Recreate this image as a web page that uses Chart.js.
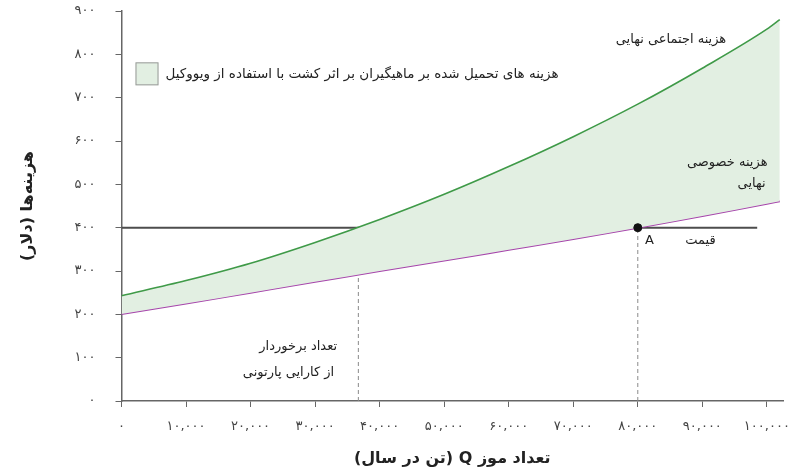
<!DOCTYPE html>
<html>
<head>
<meta charset="utf-8">
<script src="https://cdn.jsdelivr.net/npm/chart.js@4.4.1/dist/chart.umd.min.js"></script>
<style>
  html, body { margin: 0; padding: 0; background: #fff; }
  #wrap { width: 810px; height: 473px; position: relative; }
  canvas { direction: rtl; }
</style>
</head>
<body>
<div id="wrap"><canvas id="myChart"></canvas></div>
<script>
// quantity of bananas (tonnes per year)
const qValues = [0, 10000, 20000, 30000, 40000, 50000, 60000, 70000, 80000, 90000, 100000, 102000];
// marginal social cost
const socialCost = [243, 278, 318, 366, 419, 477, 541, 610, 685, 768, 858, 880];
// marginal private cost
const privateCost = [201, 225, 250, 275, 300, 324, 349, 374, 400, 427, 455, 461];

const priceLevel = 400;
const priceEnd = 98500;
const paretoQ = 36700;
const marketQ = 80000;

const yTicks = [0, 100, 200, 300, 400, 500, 600, 700, 800, 900];
const xTicks = [0, 10000, 20000, 30000, 40000, 50000, 60000, 70000, 80000, 90000, 100000];

const legendText = 'هزینه های تحمیل شده بر ماهیگیران بر اثر کشت با استفاده از ویووکیل';
const yTitle = 'هزینه‌ها (دلار)';
const xTitle = 'تعداد موز Q (تن در سال)';

const FONT = "'DejaVu Sans', 'Noto Sans', sans-serif";
const GREEN = '#3f9a48';
const PURPLE = '#a645ab';
const FILL = '#e2efe2';

function toFa(n) {
    const s = n.toLocaleString('en-US');
    return s.replace(/[0-9]/g, d => '۰۱۲۳۴۵۶۷۸۹'[d]);
}

const labels = [
    { x: 93700, y: 835, text: 'هزینه اجتماعی نهایی', align: 'right' },
    { x: 100100, y: 549, text: 'هزینه خصوصی', align: 'right' },
    { x: 99800, y: 501, text: 'نهایی', align: 'right' },
    { x: 81100, y: 369, text: 'A', align: 'left' },
    { x: 89700, y: 369, text: 'قیمت', align: 'center' },
    { x: 33400, y: 126, text: 'تعداد برخوردار', align: 'right' },
    { x: 32950, y: 65, text: 'از کارایی پارتونی', align: 'right' }
];

const annotate = {
    id: 'annotate',
    afterDatasetsDraw(chart) {
        const ctx = chart.ctx;
        const xs = chart.scales.x, ys = chart.scales.y;
        ctx.save();
        ctx.fillStyle = '#222';
        ctx.font = '13px ' + FONT;
        ctx.textBaseline = 'middle';
        labels.forEach(l => {
            ctx.textAlign = l.align;
            ctx.fillText(l.text, xs.getPixelForValue(l.x), ys.getPixelForValue(l.y));
        });
        // legend box
        const bx = chart.chartArea.left + 14, by = ys.getPixelForValue(755) - 11.5;
        ctx.fillStyle = FILL;
        ctx.fillRect(bx, by, 23, 23);
        ctx.strokeStyle = '#9a9a9a';
        ctx.lineWidth = 1;
        ctx.strokeRect(bx + 0.5, by + 0.5, 22, 22);
        ctx.fillStyle = '#222';
        ctx.font = '13.5px ' + FONT;
        ctx.textAlign = 'left';
        ctx.fillText(legendText, bx + 30, by + 12);
        ctx.restore();
    }
};

const ctx = document.getElementById('myChart');

new Chart(ctx, {
    type: 'line',
    data: {
        datasets: [
            {
                label: 'msc',
                data: qValues.map((q, i) => ({ x: q, y: socialCost[i] })),
                borderColor: GREEN,
                borderWidth: 1.6,
                backgroundColor: FILL,
                fill: '+1',
                pointRadius: 0,
                cubicInterpolationMode: 'monotone'
            },
            {
                label: 'mpc',
                data: qValues.map((q, i) => ({ x: q, y: privateCost[i] })),
                borderColor: PURPLE,
                borderWidth: 2,
                fill: false,
                pointRadius: 0,
                cubicInterpolationMode: 'monotone'
            },
            {
                label: 'price',
                data: [{ x: 0, y: priceLevel }, { x: priceEnd, y: priceLevel }],
                borderColor: '#4d4d4d',
                borderWidth: 2,
                pointRadius: 0
            },
            {
                label: 'pareto',
                data: [{ x: paretoQ, y: 0 }, { x: paretoQ, y: priceLevel }],
                borderColor: '#8a8a8a',
                borderWidth: 1,
                borderDash: [4, 3],
                pointRadius: 0
            },
            {
                label: 'market',
                data: [{ x: marketQ, y: 0 }, { x: marketQ, y: 685 }],
                borderColor: '#8a8a8a',
                borderWidth: 1,
                borderDash: [4, 3],
                pointRadius: 0
            },
            {
                label: 'A',
                data: [{ x: marketQ, y: priceLevel }],
                showLine: false,
                order: -1,
                pointRadius: 4,
                pointBackgroundColor: '#111',
                pointBorderColor: '#111'
            }
        ]
    },
    options: {
        responsive: true,
        maintainAspectRatio: false,
        animation: false,
        layout: { padding: { top: 11, right: 27, left: 0, bottom: 0 } },
        plugins: { legend: { display: false }, tooltip: { enabled: false } },
        scales: {
            x: {
                type: 'linear',
                min: 0,
                max: 102500,
                afterBuildTicks: axis => { axis.ticks = xTicks.map(v => ({ value: v })); },
                afterFit: s => { s.height = 72; },
                ticks: {
                    padding: 12,
                    color: '#444',
                    font: { family: FONT, size: 13 },
                    maxRotation: 0,
                    callback: v => toFa(v)
                },
                grid: { drawOnChartArea: false, tickLength: 6, color: '#666' },
                border: { color: '#666', width: 1.5 },
                title: {
                    display: true,
                    text: xTitle,
                    color: '#222',
                    font: { family: FONT, size: 16, weight: 'bold' },
                    padding: { top: 0, bottom: 5 }
                }
            },
            y: {
                min: 0,
                max: 900,
                afterBuildTicks: axis => { axis.ticks = yTicks.map(v => ({ value: v })); },
                afterFit: s => { s.width = 121.5; s.paddingTop = 0; s.paddingBottom = 0; },
                ticks: {
                    padding: 20,
                    color: '#444',
                    font: { family: FONT, size: 13 },
                    callback: v => toFa(v)
                },
                grid: { drawOnChartArea: false, tickLength: 6, color: '#666' },
                border: { color: '#666', width: 1.5 },
                title: {
                    display: true,
                    text: yTitle,
                    color: '#222',
                    font: { family: FONT, size: 16, weight: 'bold' },
                    padding: { top: 18, bottom: 0 }
                }
            }
        }
    },
    plugins: [annotate]
});
</script>
</body>
</html>
